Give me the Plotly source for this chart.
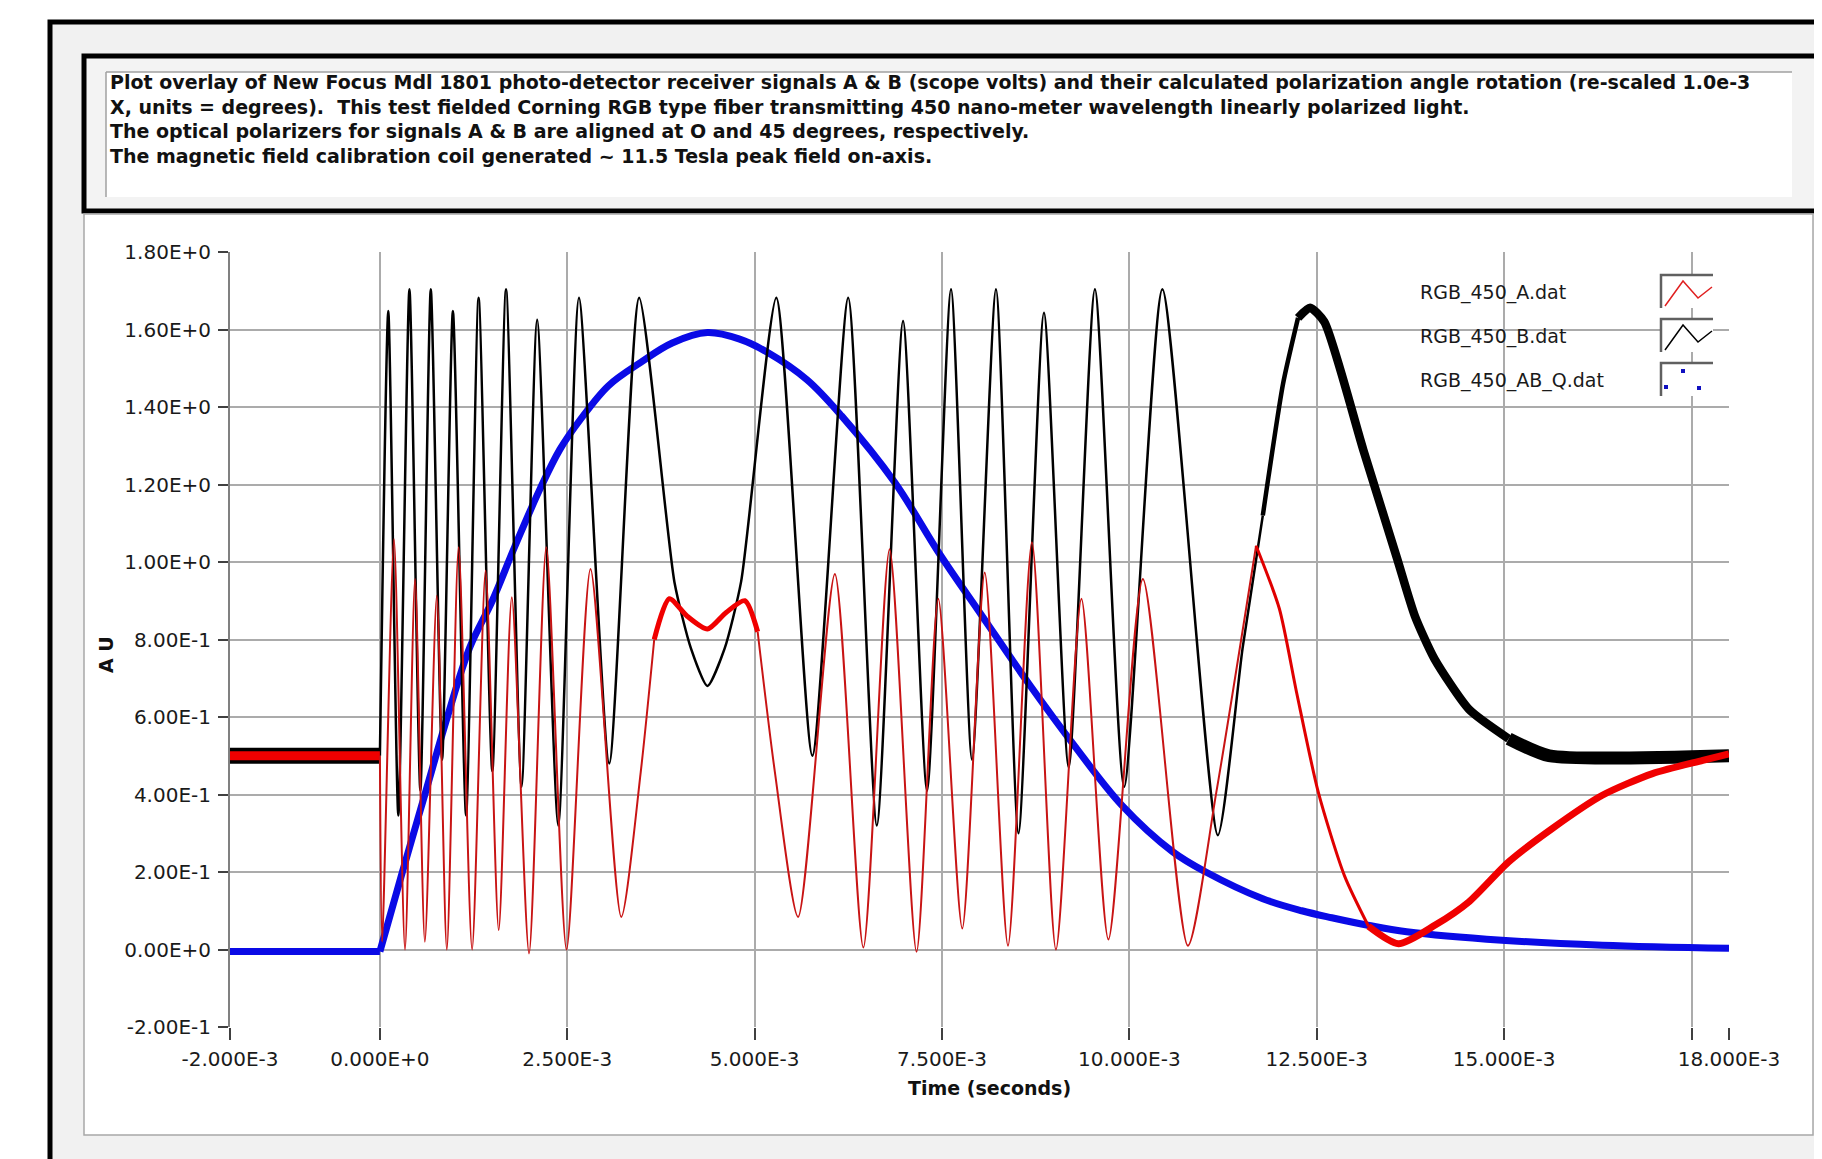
import plotly.graph_objects as go

# ---------------- data (time in ms, signals in AU) ----------------
B_T = [-2.0, 0.0, 0.112, 0.246, 0.394, 0.54, 0.679, 0.83, 0.974, 1.15,
       1.317, 1.50, 1.683, 1.89, 2.098, 2.38, 2.656, 3.06, 3.459, 3.93,
       4.15, 4.37, 4.60, 4.82, 5.289, 5.77, 6.248, 6.63, 6.98, 7.30,
       7.62, 7.90, 8.22, 8.52, 8.86, 9.19, 9.54, 9.93, 10.44, 11.18,
       11.51, 11.78, 12.05, 12.25, 12.41, 12.6, 13.12, 13.57, 13.81, 14.07,
       14.53, 15.06, 15.6, 18.0]
B_V = [0.50, 0.50, 1.648, 0.346, 1.704, 0.41, 1.704, 0.49, 1.648, 0.346,
       1.682, 0.46, 1.704, 0.42, 1.625, 0.32, 1.682, 0.48, 1.682, 0.948,
       0.777, 0.68, 0.777, 0.95, 1.682, 0.50, 1.682, 0.32, 1.622, 0.41,
       1.704, 0.49, 1.704, 0.30, 1.643, 0.47, 1.704, 0.42, 1.704, 0.295,
       0.777, 1.12, 1.46, 1.63, 1.656, 1.62, 1.29, 1.01, 0.86, 0.75,
       0.62, 0.544, 0.50, 0.50]

A_T = [-2.0, 0.0, 0.03, 0.188, 0.335, 0.469, 0.60, 0.759, 0.893, 1.05,
       1.23, 1.41, 1.585, 1.76, 1.99, 2.22, 2.49, 2.81, 3.22, 3.48,
       3.66, 3.86, 4.10, 4.37, 4.62, 4.87, 5.04, 5.27, 5.58, 6.07,
       6.45, 6.80, 7.16, 7.45, 7.77, 8.07, 8.38, 8.70, 9.02, 9.36,
       9.72, 10.18, 10.78, 11.16, 11.69, 12.0, 12.23, 12.52, 12.87, 13.19,
       13.59, 14.08, 14.53, 15.06, 15.64, 16.31, 16.98, 17.65, 18.0]
A_V = [0.50, 0.50, 0.02, 1.059, 0.0, 0.956, 0.02, 0.913, 0.0, 1.038,
       0.0, 0.978, 0.05, 0.909, -0.01, 1.038, 0.0, 0.982, 0.084, 0.458,
       0.80, 0.905, 0.86, 0.827, 0.87, 0.90, 0.82, 0.458, 0.084, 0.969,
       0.005, 1.033, -0.006, 0.905, 0.054, 0.973, 0.01, 1.051, 0.0, 0.905,
       0.026, 0.956, 0.01, 0.406, 1.042, 0.88, 0.664, 0.406, 0.19, 0.06,
       0.015, 0.063, 0.123, 0.226, 0.312, 0.398, 0.454, 0.488, 0.505]

Q_T = [-2.0, 0.0, 0.3, 0.6, 0.9, 1.2, 1.5, 1.8, 2.14, 2.4,
       2.68, 3.05, 3.48, 3.9, 4.37, 4.8, 5.18, 5.7, 6.16, 6.87,
       7.47, 8.03, 8.66, 9.25, 9.90, 10.58, 11.02, 11.78, 12.3, 12.7,
       13.2, 13.7, 14.97, 16.31, 18.0]
Q_V = [-0.005, -0.005, 0.20, 0.40, 0.60, 0.78, 0.90, 1.04, 1.19, 1.29,
       1.369, 1.455, 1.515, 1.565, 1.592, 1.575, 1.540, 1.47, 1.377, 1.205,
       1.02, 0.862, 0.685, 0.53, 0.372, 0.252, 0.20, 0.131, 0.10, 0.082,
       0.062, 0.046, 0.024, 0.011, 0.003]

LEGEND_NAMES = ["RGB_450_A.dat", "RGB_450_B.dat", "RGB_450_AB_Q.dat"]

X_TICK_VALS = [-2.0, 0.0, 2.5, 5.0, 7.5, 10.0, 12.5, 15.0, 17.5, 18.0]
X_TICK_TEXT = ["-2.000E-3", "0.000E+0", "2.500E-3", "5.000E-3", "7.500E-3",
               "10.000E-3", "12.500E-3", "15.000E-3", "", "18.000E-3"]
X_GRID_VALS = [0.0, 2.5, 5.0, 7.5, 10.0, 12.5, 15.0, 17.5]
Y_TICK_VALS = [-0.2, 0.0, 0.2, 0.4, 0.6, 0.8, 1.0, 1.2, 1.4, 1.6, 1.8]
Y_TICK_TEXT = ["-2.00E-1", "0.00E+0", "2.00E-1", "4.00E-1", "6.00E-1", "8.00E-1",
               "1.00E+0", "1.20E+0", "1.40E+0", "1.60E+0", "1.80E+0"]
Y_GRID_VALS = [0.0, 0.2, 0.4, 0.6, 0.8, 1.0, 1.2, 1.4, 1.6, 1.8]

NOTE_LINES = [
    "Plot overlay of New Focus Mdl 1801 photo-detector receiver signals A &amp; B (scope volts) and their calculated polarization angle rotation (re-scaled 1.0e-3",
    "X, units = degrees).\u00a0 This test fielded Corning RGB type fiber transmitting 450 nano-meter wavelength linearly polarized light.",
    "The optical polarizers for signals A &amp; B are aligned at O and 45 degrees, respectively.",
    "The magnetic field calibration coil generated ~ 11.5 Tesla peak field on-axis.",
]

# ---------------- styles (segments: start ms, end ms, width, color, shape) ----------------
B_SEGMENTS = [(-2.0, 0.0, 16, "#000000", "linear"), (0.0, 11.78, 2.5, "#000000", "spline"),
              (11.78, 12.25, 4.5, "#000000", "spline"), (12.25, 15.06, 8.5, "#000000", "spline"),
              (15.06, 18.0, 13, "#000000", "spline")]
A_SEGMENTS = [(-2.0, 0.0, 9, "#f00000", "linear"), (0.0, 3.66, 2, "#c81414", "spline"),
              (3.66, 5.04, 5, "#f00000", "spline"), (5.04, 11.69, 2, "#c81414", "spline"),
              (11.69, 13.19, 3, "#e00000", "spline"), (13.19, 18.0, 7, "#f00000", "spline")]
Q_SEGMENTS = [(-2.0, 0.0, 7, "#0a0ae6", "linear"), (0.0, 18.0, 7, "#0a0ae6", "spline")]

OFF = 8                      # browser body margin
W, H = 1822 - OFF, 1159 - OFF
PL, PR, PT, PB = 230, 1729, 252, 1027  # plot area in page pixels


def fx(px):
    return (px - PL) / (PR - PL)


def fy(py):
    return (PB - py) / (PB - PT)


def seg(ts, vs, t0, t1):
    xs, ys = [], []
    for t, v in zip(ts, vs):
        if t0 - 1e-9 <= t <= t1 + 1e-9:
            xs.append(t)
            ys.append(v)
    return xs, ys


fig = go.Figure()


def add_series(ts, vs, segments, name, smoothing):
    for t0, t1, w, c, shp in segments:
        xs, ys = seg(ts, vs, t0, t1)
        line = dict(width=w, color=c, shape=shp)
        if shp == "spline":
            line["smoothing"] = smoothing
        fig.add_trace(go.Scatter(x=xs, y=ys, mode="lines", name=name, line=line,
                                 showlegend=False, hoverinfo="skip"))


add_series(Q_T, Q_V, Q_SEGMENTS, LEGEND_NAMES[2], 1.0)
add_series(B_T, B_V, B_SEGMENTS, LEGEND_NAMES[1], 0.6)
add_series(A_T, A_V, A_SEGMENTS, LEGEND_NAMES[0], 0.7)

shapes = []
# outer frame with light gray fill
shapes.append(dict(type="rect", xref="paper", yref="paper", layer="below",
                   x0=fx(50), x1=fx(1850), y0=fy(22), y1=fy(1200),
                   fillcolor="#f1f1f1", line=dict(color="#000000", width=5)))
# note box
shapes.append(dict(type="rect", xref="paper", yref="paper", layer="below",
                   x0=fx(84), x1=fx(1818), y0=fy(56), y1=fy(211),
                   fillcolor="#f3f3f3", line=dict(color="#000000", width=5)))
shapes.append(dict(type="rect", xref="paper", yref="paper", layer="below",
                   x0=fx(106), x1=fx(1792), y0=fy(72), y1=fy(197),
                   fillcolor="#ffffff", line=dict(width=0)))
shapes.append(dict(type="line", xref="paper", yref="paper", layer="below",
                   x0=fx(106), x1=fx(1792), y0=fy(72), y1=fy(72),
                   line=dict(color="#a0a0a0", width=1.5)))
shapes.append(dict(type="line", xref="paper", yref="paper", layer="below",
                   x0=fx(106), x1=fx(106), y0=fy(72), y1=fy(197),
                   line=dict(color="#a0a0a0", width=1.5)))
# white plot panel
shapes.append(dict(type="rect", xref="paper", yref="paper", layer="below",
                   x0=fx(84), x1=fx(1813), y0=fy(214), y1=fy(1135),
                   fillcolor="#ffffff", line=dict(color="#a8a8a8", width=1.5)))

# legend glyph boxes
ROW_TOP = [275, 319, 363]
for i, top in enumerate(ROW_TOP):
    shapes.append(dict(type="rect", xref="paper", yref="paper", layer="above",
                       x0=fx(1660), x1=fx(1713), y0=fy(top), y1=fy(top + 33),
                       fillcolor="#ffffff", line=dict(width=0)))
    shapes.append(dict(type="path", xref="paper", yref="paper", layer="above",
                       path="M %f %f L %f %f L %f %f" % (fx(1661), fy(top + 33), fx(1661), fy(top),
                                                          fx(1713), fy(top)),
                       line=dict(color="#606060", width=2.5)))
ZIG = [(5, 31), (23, 6), (38, 23), (52, 12)]
for top, col in [(ROW_TOP[0], "#e02020"), (ROW_TOP[1], "#000000")]:
    pts = [(fx(1660 + dx), fy(top + dy)) for dx, dy in ZIG]
    path = "M %f %f " % pts[0] + " ".join("L %f %f" % p for p in pts[1:])
    shapes.append(dict(type="path", xref="paper", yref="paper", layer="above",
                       path=path, line=dict(color=col, width=1.5)))
for dx, dy in [(6, 24), (23, 8), (39, 25)]:
    cx, cy = 1660 + dx, ROW_TOP[2] + dy
    shapes.append(dict(type="rect", xref="paper", yref="paper", layer="above",
                       x0=fx(cx - 2), x1=fx(cx + 2), y0=fy(cy - 2), y1=fy(cy + 2),
                       fillcolor="#1010c0", line=dict(width=0)))

annotations = []
annotations.append(dict(xref="paper", yref="paper", x=fx(108), y=fy(119),
                        xanchor="left", yanchor="middle", align="left", showarrow=False,
                        text="<br>".join("<b>" + ln + "</b>" for ln in NOTE_LINES),
                        font=dict(family="DejaVu Sans", size=19, color="#111111")))
for name, top in zip(LEGEND_NAMES, ROW_TOP):
    annotations.append(dict(xref="paper", yref="paper", x=fx(1418), y=fy(top + 17),
                            xanchor="left", yanchor="middle", showarrow=False,
                            text=name, font=dict(family="DejaVu Sans", size=19, color="#1a1a1a")))
annotations.append(dict(xref="paper", yref="paper", x=fx(989), y=fy(1088),
                        xanchor="center", yanchor="middle", showarrow=False,
                        text="<b>Time (seconds)</b>",
                        font=dict(family="DejaVu Sans", size=19, color="#111111")))
annotations.append(dict(xref="paper", yref="paper", x=fx(106), y=fy(655),
                        xanchor="center", yanchor="middle", showarrow=False, textangle=-90,
                        text="<b>A U</b>",
                        font=dict(family="DejaVu Sans", size=19, color="#111111")))

GRID = dict(showgrid=True, gridcolor="#ababab", gridwidth=2, ticks="")
fig.update_layout(
    width=W, height=H,
    margin=dict(l=PL - OFF, r=W - (PR - OFF), t=PT - OFF, b=H - (PB - OFF), pad=0),
    paper_bgcolor="#ffffff", plot_bgcolor="#ffffff",
    shapes=shapes, annotations=annotations, showlegend=False,
    xaxis=dict(range=[-2.0, 18.0], tickmode="array", tickvals=X_TICK_VALS, ticktext=X_TICK_TEXT,
               showgrid=False, zeroline=False,
               minor=dict(tickmode="array", tickvals=X_GRID_VALS, **GRID),
               showline=False, ticks="outside", ticklen=12, tickwidth=2, tickcolor="#404040",
               tickfont=dict(family="DejaVu Sans", size=20, color="#1a1a1a"),
               ticklabelstandoff=2),
    yaxis=dict(range=[-0.2, 1.8], tickmode="array", tickvals=Y_TICK_VALS, ticktext=Y_TICK_TEXT,
               showgrid=False, zeroline=False,
               minor=dict(tickmode="array", tickvals=Y_GRID_VALS, **GRID),
               showline=True, linecolor="#808080", linewidth=2,
               ticks="outside", ticklen=10, tickwidth=2, tickcolor="#404040",
               tickfont=dict(family="DejaVu Sans", size=20, color="#1a1a1a"),
               ticklabelstandoff=3),
)

fig.write_html("out.html", config={"displayModeBar": False})
